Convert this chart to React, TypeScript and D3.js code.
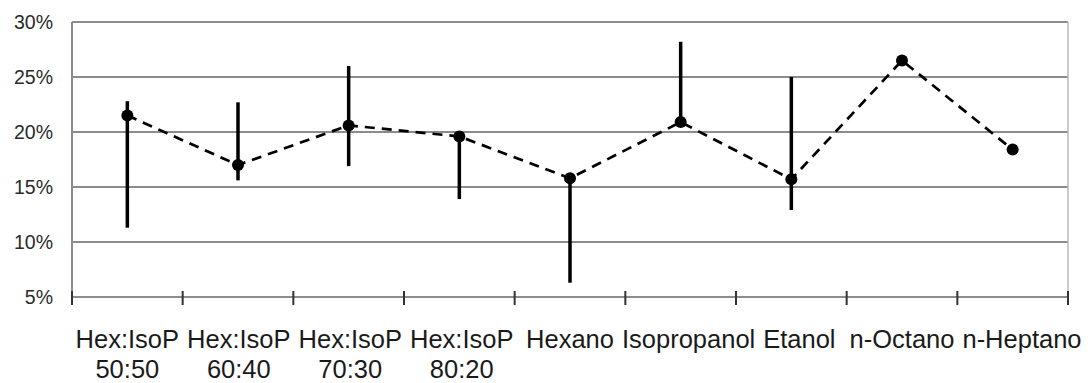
import React, { useRef, useEffect } from 'react';
import * as d3 from 'd3';

// categorias (linea 1 y linea 2 de la etiqueta)
const categories = ['Hex:IsoP 50:50', 'Hex:IsoP 60:40', 'Hex:IsoP 70:30', 'Hex:IsoP 80:20', 'Hexano', 'Isopropanol', 'Etanol', 'n-Octano', 'n-Heptano'];
const labelLines = [
  ['Hex:IsoP', '50:50'],
  ['Hex:IsoP', '60:40'],
  ['Hex:IsoP', '70:30'],
  ['Hex:IsoP', '80:20'],
  ['Hexano'],
  ['Isopropanol'],
  ['Etanol'],
  ['n-Octano'],
  ['n-Heptano'],
];

// valores en %
const values = [21.5, 17.0, 20.6, 19.6, 15.8, 20.9, 15.7, 26.5, 18.4];
const barTop = [22.8, 22.7, 26.0, 19.6, 15.8, 28.2, 25.0, 26.5, 18.4];
const barBottom = [11.3, 15.6, 16.9, 13.9, 6.3, 20.9, 12.9, 26.5, 18.4];

const yTicks = [5, 10, 15, 20, 25, 30];

const W = 1090;
const H = 383;

const plot = (svgRef: React.RefObject<SVGSVGElement | null>) => {
  const svgEl = d3.select(svgRef.current);
  svgEl.selectAll('*').remove();

  const margin = { left: 72, right: 22, top: 22, bottom: 86 };
  const svg = svgEl.append('g');

  const x = d3.scaleBand<string>()
    .domain(categories)
    .range([margin.left, W - margin.right])
    .padding(0);

  const y = d3.scaleLinear()
    .domain([5, 30])
    .range([H - margin.bottom, margin.top]);

  const cx = (i: number) => (x(categories[i]) as number) + x.bandwidth() / 2;

  // lineas horizontales de la rejilla
  svg.append('g')
    .selectAll('line')
    .data(yTicks)
    .join('line')
    .attr('x1', margin.left)
    .attr('x2', W - margin.right)
    .attr('y1', d => y(d))
    .attr('y2', d => y(d))
    .attr('stroke', '#8c8c8c')
    .attr('stroke-width', 2);

  // borde derecho
  svg.append('line')
    .attr('x1', W - margin.right).attr('x2', W - margin.right)
    .attr('y1', y(30)).attr('y2', y(5))
    .attr('stroke', '#b8b8b8').attr('stroke-width', 1.5);

  // eje y
  svg.append('line')
    .attr('x1', margin.left).attr('x2', margin.left)
    .attr('y1', y(30)).attr('y2', y(5))
    .attr('stroke', '#8c8c8c').attr('stroke-width', 2);

  svg.append('g')
    .selectAll('text')
    .data(yTicks)
    .join('text')
    .attr('x', 53)
    .attr('y', d => y(d))
    .attr('dy', '0.35em')
    .attr('text-anchor', 'end')
    .attr('font-family', '"Liberation Sans", Arial, sans-serif')
    .attr('font-size', 19.5)
    .attr('fill', '#2a2a2a')
    .text(d => `${d}%`);

  // marcas del eje x en los limites de categoria
  const bounds = categories.map(c => x(c) as number).concat([W - margin.right]);
  svg.append('g')
    .selectAll('line')
    .data(bounds)
    .join('line')
    .attr('x1', d => d).attr('x2', d => d)
    .attr('y1', y(5) - 6).attr('y2', y(5) + 8)
    .attr('stroke', '#333')
    .attr('stroke-width', 2);

  // etiquetas del eje x
  const lbl = svg.append('g')
    .attr('font-family', '"Liberation Sans", Arial, sans-serif')
    .attr('font-size', 25.5)
    .attr('fill', '#1a1a1a')
    .attr('text-anchor', 'middle');

  const groups = labelLines.map((lines, i) => {
    const g = lbl.append('g').attr('transform', `translate(${cx(i)},0)`);
    let w = 0;
    lines.forEach((t, k) => {
      const node = g.append('text')
        .attr('x', 0)
        .attr('y', 348 + k * 30)
        .text(t)
        .node() as SVGTextElement;
      w = Math.max(w, node.getComputedTextLength());
    });
    return { g, c: cx(i), w };
  });

  // evitar solapes como hace Excel: empujar a la derecha y limitar al borde
  const gap = 8;
  for (let i = 1; i < groups.length; i++) {
    const prev = groups[i - 1];
    const cur = groups[i];
    const minC = prev.c + prev.w / 2 + gap + cur.w / 2;
    if (cur.c < minC) cur.c = minC;
  }
  const last = groups[groups.length - 1];
  if (last.c + last.w / 2 > W - 3) last.c = W - 3 - last.w / 2;
  for (let i = groups.length - 2; i >= 0; i--) {
    const nxt = groups[i + 1];
    const cur = groups[i];
    const maxC = nxt.c - nxt.w / 2 - gap - cur.w / 2;
    if (cur.c > maxC) cur.c = maxC;
  }
  groups.forEach(o => o.g.attr('transform', `translate(${o.c},0)`));

  // barras de error
  svg.append('g')
    .selectAll('line')
    .data(values.map((v, i) => i))
    .join('line')
    .attr('x1', i => cx(i)).attr('x2', i => cx(i))
    .attr('y1', i => y(barTop[i]))
    .attr('y2', i => y(barBottom[i]))
    .attr('stroke', '#000')
    .attr('stroke-width', 3.5);

  // linea discontinua
  svg.append('path')
    .datum(values)
    .attr('fill', 'none')
    .attr('stroke', '#000')
    .attr('stroke-width', 2.7)
    .attr('stroke-dasharray', '10,7')
    .attr('d', d3.line<number>()
      .x((d, i) => cx(i))
      .y(d => y(d)));

  // puntos
  svg.append('g')
    .selectAll('circle')
    .data(values)
    .join('circle')
    .attr('cx', (d, i) => cx(i))
    .attr('cy', d => y(d))
    .attr('r', 6)
    .attr('fill', '#000');
};

export default function App() {
  const svgRef = useRef<SVGSVGElement | null>(null);

  useEffect(() => {
    plot(svgRef);
  }, []);

  return (
    <svg
      ref={svgRef}
      width={W}
      height={H}
      style={{ position: 'absolute', left: 0, top: 0, background: '#fff' }}
    />
  );
}
